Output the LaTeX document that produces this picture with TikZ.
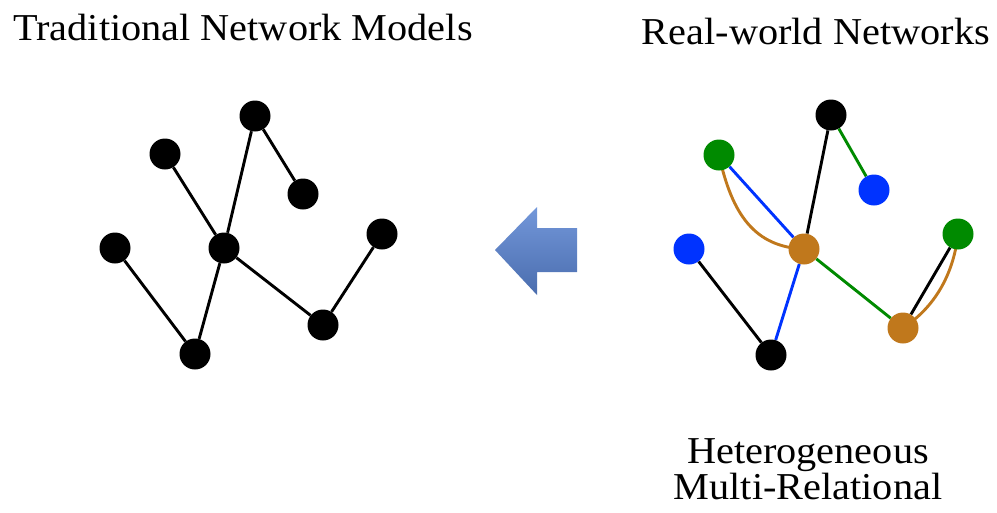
\documentclass[tikz,border=0pt]{standalone}
\usepackage{fontspec}
\setmainfont{Liberation Serif}[FakeStretch=1.06]
\usetikzlibrary{backgrounds}

\definecolor{relgreen}{HTML}{008A00}
\definecolor{relblue}{HTML}{0033FF}
\definecolor{relorange}{HTML}{C0781C}
\definecolor{arrowtop}{HTML}{7397DA}
\definecolor{arrowbot}{HTML}{4A6DAE}

\tikzset{
  vtx/.style={circle, minimum size=31pt, inner sep=0pt, fill=#1},
  vtx/.default=black,
  edge/.style={line width=2.9pt, draw=#1},
  edge/.default=black,
  title/.style={font=\fontsize{38}{33}\selectfont, inner sep=0pt},
}

\begin{document}
\begin{tikzpicture}[x=1pt, y=-1pt]
  \useasboundingbox (0,0) rectangle (997,512);

  % titles
  \node[title, anchor=base west] (tl) at (13,40) {Traditional Network Models};
  \node[title, anchor=base east] (tr) at (990,44) {Real-world Networks};
  \node[title, anchor=base, align=center] (tb) at (808,499)
    {Heterogeneous\\Multi-Relational};

  % traditional (homogeneous) network
  \node[vtx] (a) at (255,116) {};
  \node[vtx] (b) at (165,154) {};
  \node[vtx] (c) at (303,194) {};
  \node[vtx] (d) at (115,248) {};
  \node[vtx] (e) at (224,248) {};
  \node[vtx] (f) at (382,234) {};
  \node[vtx] (g) at (323,325) {};
  \node[vtx] (h) at (195,354) {};

  % real-world heterogeneous network
  \node[vtx] (rt) at (831,115) {};
  \node[vtx=relgreen] (rg1) at (719,155) {};
  \node[vtx=relblue] (rb1) at (874,190) {};
  \node[vtx=relgreen] (rg2) at (958,234) {};
  \node[vtx=relblue] (rb2) at (689,249) {};
  \node[vtx=relorange] (ro1) at (804,249) {};
  \node[vtx=relorange] (ro2) at (903,328) {};
  \node[vtx] (rk) at (771,355) {};

  \begin{pgfonlayer}{background}
    \draw[edge] (a) -- (c);
    \draw[edge] (a) -- (e);
    \draw[edge] (b) -- (e);
    \draw[edge] (d) -- (h);
    \draw[edge] (e) -- (h);
    \draw[edge] (e) -- (g);
    \draw[edge] (g) -- (f);

    \draw[edge] (rt) -- (ro1);
    \draw[edge=relgreen] (rt) -- (rb1);
    \draw[edge=relblue] (rg1) -- (ro1);
    \draw[edge=relorange] (rg1.center) .. controls (732,215) and (755,247) .. (ro1.center);
    \draw[edge] (rb2) -- (rk);
    \draw[edge=relblue] (ro1) -- (rk);
    \draw[edge=relgreen] (ro1) -- (ro2);
    \draw[edge] (ro2) -- (rg2);
    \draw[edge=relorange] (ro2.center) .. controls (938,305) and (954,270) .. (rg2.center);
  \end{pgfonlayer}

  % block arrow pointing from the real-world network to the traditional one
  \shade[top color=arrowtop, bottom color=arrowbot]
    (495,250) -- (537,207) -- (537,228) -- (577,228) -- (577,272)
    -- (537,272) -- (537,295) -- cycle;
\end{tikzpicture}
\end{document}
